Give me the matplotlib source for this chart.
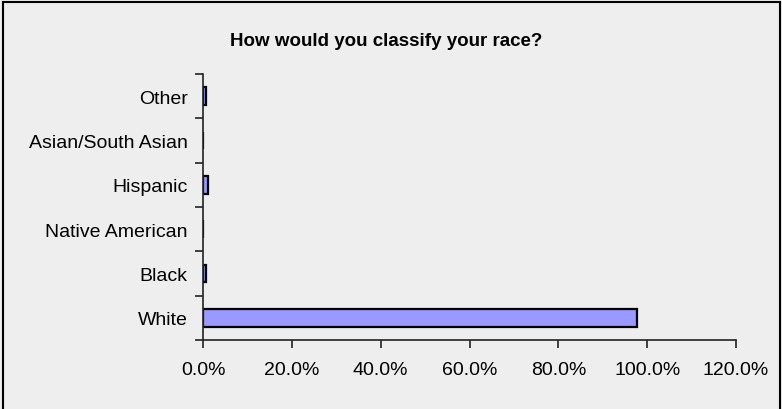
import matplotlib
matplotlib.use("Agg")
import matplotlib.pyplot as plt
from matplotlib.patches import Rectangle
from matplotlib.ticker import FixedLocator, PercentFormatter

categories = ["White", "Black", "Native American", "Hispanic", "Asian/South Asian", "Other"]
values = [97.7, 0.7, 0.0, 1.1, 0.0, 0.7]
xticks = [0, 20, 40, 60, 80, 100, 120]

plt.rcParams['font.family'] = ['Liberation Sans', 'DejaVu Sans']

bg = "#eeeeee"
fig = plt.figure(figsize=(7.82, 4.10), dpi=100, facecolor=bg)
ax = fig.add_axes([203/782, 69/410, 533/782, 266/410], facecolor=bg)

y = list(range(len(categories)))
ax.barh(y, values, height=0.4, color="#9999ff", edgecolor="black", linewidth=1.6)

ax.set_xlim(0, 120)
ax.set_ylim(-0.5, len(categories) - 0.5)
ax.set_xticks(xticks)
ax.xaxis.set_major_formatter(PercentFormatter(decimals=1))
ax.set_yticks(y)
ax.set_yticklabels(categories)
ax.yaxis.set_minor_locator(FixedLocator([i - 0.5 for i in range(len(categories) + 1)]))
ax.tick_params(axis="y", which="major", length=0, pad=11, labelsize=14)
ax.tick_params(axis="y", which="minor", length=6, width=1.2, color="#222222")
ax.tick_params(axis="x", which="major", length=6, width=1.2, color="#222222", pad=9, labelsize=14)

for s in ["top", "right"]:
    ax.spines[s].set_visible(False)
for s in ["left", "bottom"]:
    ax.spines[s].set_color("#222222")
    ax.spines[s].set_linewidth(1.2)

fig.text(0.494, 1 - 42/410, "How would you classify your race?", ha="center", va="center",
         fontsize=13.5, fontweight="bold")

fig.patches.append(Rectangle((2.5/782, -0.1), (779.5 - 2.5)/782, 1.1 - 2.5/410, transform=fig.transFigure,
                             fill=False, edgecolor="black", linewidth=1.5))

fig.savefig("out.png", dpi=100, facecolor=bg)
